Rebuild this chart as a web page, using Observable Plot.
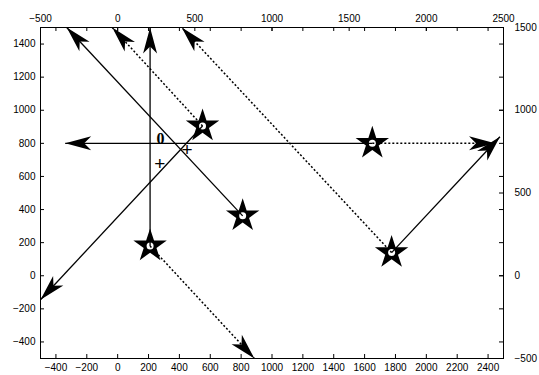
<!DOCTYPE html>
<html><head><meta charset="utf-8">
<script src="https://cdn.jsdelivr.net/npm/d3@7"></script>
<script src="https://cdn.jsdelivr.net/npm/@observablehq/plot@0.6"></script>
<style>body{margin:0;background:#fff} svg{display:block}</style>
</head><body><div id="chart"></div>
<script>
// Tick values
const xTicks = [-400, -200, 0, 200, 400, 600, 800, 1000, 1200, 1400, 1600, 1800, 2000, 2200, 2400];
const x2Ticks = [-500, 0, 500, 1000, 1500, 2000, 2500];
const yTicks = [-400, -200, 0, 200, 400, 600, 800, 1000, 1200, 1400];
const y2Ticks = [-500, 0, 500, 1000, 1500];

// Star markers
const starX = [550, 810, 210, 1650, 1775];
const starY = [905, 362, 180, 800, 140];

// Arrows: start star index, tip, and dotted flag
const arrowFrom = [0, 0, 1, 2, 2, 3, 3, 4, 4];
const arrowToX = [-500, -35, -330, 210, 886, -340, 2445, 415, 2477];
const arrowToY = [-145, 1500, 1500, 1500, -500, 800, 800, 1500, 840];
const arrowDotted = [false, true, false, false, true, false, true, true, false];

// Text labels
const boldLabelText = ["0"];
const boldLabelX = [277];
const boldLabelY = [830];
const plusX = [273, 450];
const plusY = [678, 761];

const W = 539, H = 375, mL = 40, mR = 36, mT = 27, mB = 17;
const fw = W - mL - mR, fh = H - mT - mB;
const xDomain = [-500, 2500], yDomain = [-500, 1500];
const sx = d3.scaleLinear(xDomain, [mL, W - mR]);
const sy = d3.scaleLinear(yDomain, [H - mB, mT]);
const fmt = d3.format("d");

const stars = starX.map((x, i) => ({x, y: starY[i]}));
const arrows = arrowFrom.map((s, i) => {
  const a = {x1: starX[s], y1: starY[s], x2: arrowToX[i], y2: arrowToY[i], dotted: arrowDotted[i]};
  const dx = sx(a.x2) - sx(a.x1), dy = sy(a.y2) - sy(a.y1);
  a.angle = Math.atan2(dx, -dy) * 180 / Math.PI;
  return a;
});
const boldLabels = boldLabelText.map((t, i) => ({t, x: boldLabelX[i], y: boldLabelY[i]}));
const plusLabels = plusX.map((x, i) => ({t: "+", x, y: plusY[i]}));

const head = {draw(ctx) {
  ctx.moveTo(0, 0); ctx.lineTo(7, 26); ctx.lineTo(0, 19); ctx.lineTo(-7, 26); ctx.closePath();
}};

const plot = Plot.plot({
  width: W, height: H,
  marginLeft: mL, marginRight: mR, marginTop: mT, marginBottom: mB,
  x: {domain: xDomain}, y: {domain: yDomain},
  style: {fontFamily: "'Liberation Sans', Arial, sans-serif", fontSize: "10px", color: "black", background: "white"},
  marks: [
    Plot.tickX(xTicks, {x: d => d, insetTop: fh - 4, stroke: "black"}),
    Plot.tickX(xTicks, {x: d => d, insetBottom: fh - 4, stroke: "black"}),
    Plot.tickX(x2Ticks, {x: d => d, insetBottom: fh - 4, stroke: "black"}),
    Plot.tickY(yTicks, {y: d => d, insetRight: fw - 4, stroke: "black"}),
    Plot.tickY(yTicks, {y: d => d, insetLeft: fw - 4, stroke: "black"}),
    Plot.tickY(y2Ticks, {y: d => d, insetLeft: fw - 4, stroke: "black"}),
    Plot.axisX(xTicks, {anchor: "bottom", tickSize: 0, tickPadding: 5, label: null, tickFormat: fmt}),
    Plot.axisX(x2Ticks, {anchor: "top", tickSize: 0, tickPadding: 6, label: null, tickFormat: fmt}),
    Plot.axisY(yTicks, {anchor: "left", tickSize: 0, tickPadding: 5, label: null, tickFormat: fmt}),
    Plot.axisY(y2Ticks, {anchor: "right", tickSize: 0, tickPadding: 11, label: null, tickFormat: fmt}),
    Plot.dot(stars, {x: "x", y: "y", symbol: "star", r: 10.5, fill: "black"}),
    Plot.dot(stars, {x: "x", y: "y", r: 3.5, fill: "white"}),
    Plot.link(arrows.filter(a => !a.dotted), {x1: "x1", y1: "y1", x2: "x2", y2: "y2", stroke: "black", strokeWidth: 1.3}),
    Plot.link(arrows.filter(a => a.dotted), {x1: "x1", y1: "y1", x2: "x2", y2: "y2", stroke: "black", strokeWidth: 1.5, strokeDasharray: "2,2"}),
    Plot.dot(arrows, {x: "x2", y: "y2", rotate: "angle", symbol: head, fill: "black"}),
    Plot.text(boldLabels, {x: "x", y: "y", text: "t", fontFamily: "'Liberation Serif', 'DejaVu Serif', serif", fontWeight: "bold", fontSize: 16, fill: "black"}),
    Plot.text(plusLabels, {x: "x", y: "y", text: "t", fontSize: 19, fill: "black"}),
    Plot.frame({stroke: "black"})
  ]
});
document.getElementById("chart").append(plot);
</script>
</body></html>
